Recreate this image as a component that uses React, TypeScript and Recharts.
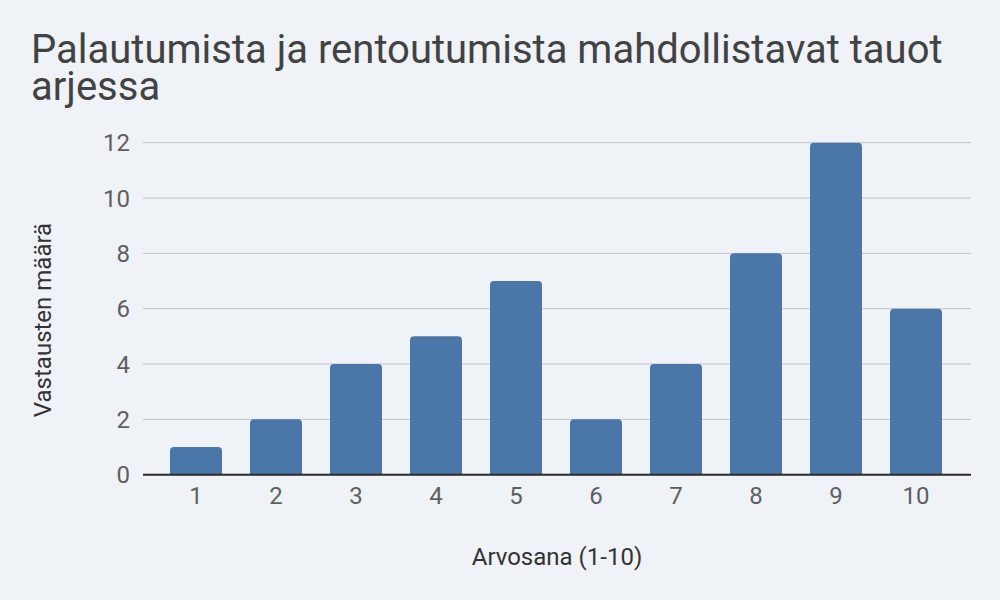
import React from 'react'
import { BarChart, Bar, XAxis, YAxis, CartesianGrid, Label } from 'recharts'

// Arvosanat ja vastausten määrät
const ARVOSANAT = ['1', '2', '3', '4', '5', '6', '7', '8', '9', '10']
const VASTAUKSET = [1, 2, 4, 5, 7, 2, 4, 8, 12, 6]
const Y_TICKS = [0, 2, 4, 6, 8, 10, 12]

const TITLE = 'Palautumista ja rentoutumista mahdollistavat tauot arjessa'
const X_LABEL = 'Arvosana (1-10)'
const Y_LABEL = 'Vastausten määrä'

const BG = '#eff2f7'
const BAR = '#4a77a8'
const FONT = 'Roboto, "Noto Sans", sans-serif'

const data = ARVOSANAT.map((a, i) => ({ arvosana: a, maara: VASTAUKSET[i] }))

export default function App() {
  return (
    <div style={{ position: 'relative', width: 1000, height: 600, background: BG, fontFamily: FONT }}>
      <style>{'body{margin:0}'}</style>
      <div
        style={{
          position: 'absolute', left: 31, top: 31, width: 960,
          fontSize: 40, lineHeight: '37px', color: '#424242', fontFamily: FONT,
        }}
      >
        {TITLE}
      </div>
      <BarChart
        width={1000}
        height={600}
        data={data}
        margin={{ top: 142.7, right: 29, bottom: 25.3, left: 23 }}
        barSize={52}
      >
        <CartesianGrid vertical={false} stroke="#c2c4c8" strokeWidth={1} />
        <XAxis
          dataKey="arvosana"
          height={100}
          padding={{ left: 13, right: 15 }}
          tickLine={false}
          tickSize={0}
          tickMargin={12}
          axisLine={{ stroke: '#2b2b2b', strokeWidth: 2 }}
          tick={{ fontSize: 24, fill: '#5f5f5f', fontFamily: FONT }}
        >
          <Label
            content={({ viewBox }: any) => (
              <text
                x={viewBox.x + viewBox.width / 2}
                y={viewBox.y + 90}
                textAnchor="middle"
                fontSize={24}
                fill="#333"
                fontFamily={FONT}
              >
                {X_LABEL}
              </text>
            )}
          />
        </XAxis>
        <YAxis
          width={120}
          domain={[0, 12]}
          ticks={Y_TICKS}
          tickLine={false}
          tickSize={0}
          tickMargin={13}
          axisLine={false}
          tick={{ fontSize: 24, fill: '#5f5f5f', fontFamily: FONT }}
        >
          <Label
            content={({ viewBox }: any) => {
              const x = viewBox.x + 28
              const y = 320
              return (
                <text
                  x={x}
                  y={y}
                  transform={`rotate(-90 ${x} ${y})`}
                  textAnchor="middle"
                  fontSize={24}
                  fill="#333"
                  fontFamily={FONT}
                >
                  {Y_LABEL}
                </text>
              )
            }}
          />
        </YAxis>
        <Bar dataKey="maara" fill={BAR} radius={[4, 4, 0, 0]} isAnimationActive={false} />
      </BarChart>
    </div>
  )
}
